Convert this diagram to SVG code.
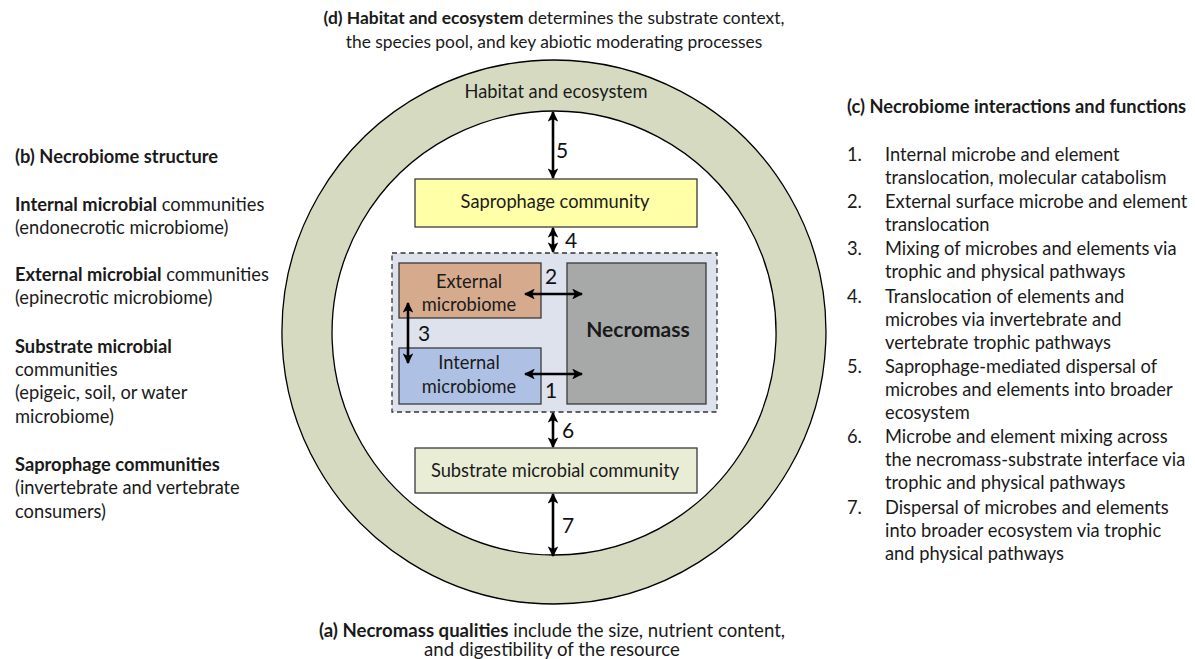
<svg xmlns="http://www.w3.org/2000/svg" width="1195" height="659" viewBox="0 0 1195 659">
<defs>
<marker id="ah" viewBox="0 0 10 10" refX="9" refY="5" markerWidth="4.2" markerHeight="4.2" orient="auto-start-reverse" markerUnits="strokeWidth">
<path d="M0,0 L10,5 L0,10 L2.5,5 z" fill="#000"/>
</marker>
</defs>
<style>
text{font-family:Lato,"Liberation Sans",sans-serif;fill:#1a1a1a}
.t{font-size:18.3px}
.b{font-weight:bold}
.c{text-anchor:middle}
.box{stroke:#3a3a3a;stroke-width:1.3}
.num{font-size:21px;fill:#111}
.arr{stroke:#000;stroke-width:2.6;fill:none;marker-start:url(#ah);marker-end:url(#ah)}
</style>
<rect width="1195" height="659" fill="#fff"/>

<g id="title-d">
<text class="c" font-size="17.4" x="554" y="24"><tspan class="b">(d) Habitat and ecosystem</tspan> determines the substrate context,</text>
<text class="c" font-size="17.4" x="554" y="48">the species pool, and key abiotic moderating processes</text>
</g>

<g id="habitat">
<path d="M554,60 A272,272 0 1 1 553.9,60 Z M554,111 A222,222 0 1 0 554.1,111 Z" fill="#d6dac1" fill-rule="evenodd" stroke="#000" stroke-width="1.3"/>
<text class="t c" x="556" y="98">Habitat and ecosystem</text>
</g>

<g id="saprophage">
<rect class="box" x="415" y="179" width="282" height="48" fill="#ffffa8"/>
<text class="t c" x="555" y="208">Saprophage community</text>
</g>

<g id="necrobiome">
<rect x="392" y="253" width="325" height="159" fill="#dde2ec" stroke="#333" stroke-width="1.3" stroke-dasharray="5,3.5"/>
</g>

<g id="external">
<rect class="box" x="399" y="263" width="142" height="55" fill="#d6aa8c"/>
<text class="t c" x="469" y="288">External</text>
<text class="t c" x="469" y="311">microbiome</text>
</g>

<g id="internal">
<rect class="box" x="399" y="348" width="142" height="56" fill="#aec1e4"/>
<text class="t c" x="469" y="369">Internal</text>
<text class="t c" x="469" y="393">microbiome</text>
</g>

<g id="necromass">
<rect class="box" x="567" y="263" width="139" height="141" fill="#a7a9a9"/>
<text class="c b" x="638" y="337" font-size="21">Necromass</text>
</g>

<g id="substrate">
<rect class="box" x="415" y="448" width="282" height="45" fill="#e9edd6"/>
<text class="t c" x="555" y="477">Substrate microbial community</text>
</g>

<g id="connectors">
<line class="arr" x1="553" y1="112" x2="553" y2="178"/>
<line class="arr" x1="553" y1="228" x2="553" y2="252"/>
<line class="arr" x1="525" y1="294" x2="582" y2="294"/>
<line class="arr" x1="525" y1="374" x2="582" y2="374"/>
<line class="arr" x1="408" y1="303" x2="408" y2="363"/>
<line class="arr" x1="553" y1="413" x2="553" y2="447"/>
<line class="arr" x1="553" y1="494" x2="553" y2="556"/>
<text class="num" x="556" y="158">5</text>
<text class="num" x="565" y="248">4</text>
<text class="num" x="545" y="284">2</text>
<text class="num" x="418" y="341">3</text>
<text class="num" x="545" y="398">1</text>
<text class="num" x="562" y="438">6</text>
<text class="num" x="562" y="533">7</text>
</g>

<g id="text-b">
<text class="t b" x="15" y="163">(b) Necrobiome structure</text>
<text class="t" x="15" y="211"><tspan class="b">Internal microbial</tspan> communities</text>
<text class="t" x="15" y="234">(endonecrotic microbiome)</text>
<text class="t" x="15" y="281"><tspan class="b">External microbial</tspan> communities</text>
<text class="t" x="15" y="304">(epinecrotic microbiome)</text>
<text class="t b" x="15" y="353">Substrate microbial</text>
<text class="t" x="15" y="376">communities</text>
<text class="t" x="15" y="399">(epigeic, soil, or water</text>
<text class="t" x="15" y="423">microbiome)</text>
<text class="t b" x="15" y="471">Saprophage communities</text>
<text class="t" x="15" y="494">(invertebrate and vertebrate</text>
<text class="t" x="15" y="518">consumers)</text>
</g>

<g id="text-c">
<text class="t b" x="847" y="113">(c) Necrobiome interactions and functions</text>
<text class="t" x="847" y="161">1.</text>
<text class="t" x="885" y="161">Internal microbe and element</text>
<text class="t" x="885" y="184">translocation, molecular catabolism</text>
<text class="t" x="847" y="208">2.</text>
<text class="t" x="885" y="208">External surface microbe and element</text>
<text class="t" x="885" y="231">translocation</text>
<text class="t" x="847" y="255">3.</text>
<text class="t" x="885" y="255">Mixing of microbes and elements via</text>
<text class="t" x="885" y="278">trophic and physical pathways</text>
<text class="t" x="847" y="303">4.</text>
<text class="t" x="885" y="303">Translocation of elements and</text>
<text class="t" x="885" y="326">microbes via invertebrate and</text>
<text class="t" x="885" y="349">vertebrate trophic pathways</text>
<text class="t" x="847" y="373">5.</text>
<text class="t" x="885" y="373">Saprophage-mediated dispersal of</text>
<text class="t" x="885" y="396">microbes and elements into broader</text>
<text class="t" x="885" y="419">ecosystem</text>
<text class="t" x="847" y="443">6.</text>
<text class="t" x="885" y="443">Microbe and element mixing across</text>
<text class="t" x="885" y="466">the necromass-substrate interface via</text>
<text class="t" x="885" y="489">trophic and physical pathways</text>
<text class="t" x="847" y="514">7.</text>
<text class="t" x="885" y="514">Dispersal of microbes and elements</text>
<text class="t" x="885" y="537">into broader ecosystem via trophic</text>
<text class="t" x="885" y="560">and physical pathways</text>
</g>

<g id="caption-a">
<text class="c" font-size="18.6" x="552" y="637"><tspan class="b">(a) Necromass qualities</tspan> include the size, nutrient content,</text>
<text class="c" font-size="18.6" x="552" y="656">and digestibility of the resource</text>
</g>
</svg>
